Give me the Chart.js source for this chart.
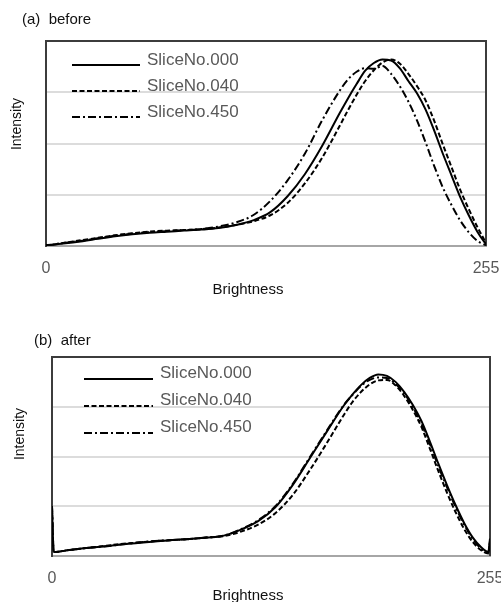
<!DOCTYPE html>
<html>
<head>
<meta charset="utf-8">
<script src="https://cdn.jsdelivr.net/npm/chart.js@4.4.1/dist/chart.umd.min.js"></script>
<style>
    html, body { margin: 0; padding: 0; overflow: hidden; background: #fff; }
    body { width: 501px; height: 602px; position: relative; font-family: "Liberation Sans", Arial, sans-serif; }
    canvas { position: absolute; left: 0; }
    #chartBefore { top: 0; }
    #chartAfter { top: 300px; }
    .lbl { position: absolute; color: #111; white-space: pre; line-height: 1; transform: translate(-50%, -50%); }
    .caption { position: absolute; color: #111; white-space: pre; font-size: 15px; line-height: 1; transform: translateY(-50%); }
    .ytitle { transform: translate(-50%, -50%) rotate(-90deg); }
</style>
</head>
<body>
<canvas id="chartBefore" width="520" height="300"></canvas>
<canvas id="chartAfter" width="520" height="302"></canvas>

<div class="caption" style="left:22px; top:18px;">(a)  before</div>
<div class="lbl ytitle" style="left:16px; top:124px; font-size:14px;">Intensity</div>
<div class="lbl" style="left:248px; top:288px; font-size:15px;">Brightness</div>

<div class="caption" style="left:34px; top:339px;">(b)  after</div>
<div class="lbl ytitle" style="left:19px; top:434px; font-size:14px;">Intensity</div>
<div class="lbl" style="left:248px; top:594px; font-size:15px;">Brightness</div>

<script>
// Data
const brightness = [0, 1, 10, 20, 30, 40, 50, 60, 70, 80, 90, 100, 110, 120, 130, 140, 150, 160, 170, 175,
    180, 185, 190, 195, 200, 205, 210, 215, 220, 225, 230, 235, 240, 245, 250, 254, 255];
const sliceNames = ["SliceNo.000", "SliceNo.040", "SliceNo.450"];
const xTickValues = [0, 255];

// (a) before
const before000 = [0.02, 0.02, 0.05, 0.09, 0.14, 0.19, 0.23, 0.26, 0.28, 0.30, 0.32, 0.35, 0.41, 0.50, 0.66, 0.97, 1.40, 1.95, 2.58, 2.88,
    3.16, 3.42, 3.57, 3.64, 3.62, 3.47, 3.22, 2.98, 2.66, 2.25, 1.80, 1.38, 0.96, 0.60, 0.28, 0.08, 0.04];
const before040 = [0.02, 0.02, 0.06, 0.11, 0.16, 0.21, 0.25, 0.28, 0.30, 0.31, 0.33, 0.36, 0.41, 0.48, 0.60, 0.84, 1.22, 1.72, 2.33, 2.65,
    2.95, 3.22, 3.43, 3.58, 3.64, 3.56, 3.36, 3.12, 2.84, 2.44, 1.98, 1.54, 1.10, 0.72, 0.37, 0.12, 0.05];
const before450 = [0.02, 0.02, 0.06, 0.10, 0.15, 0.20, 0.24, 0.27, 0.29, 0.31, 0.33, 0.38, 0.46, 0.60, 0.88, 1.28, 1.80, 2.45, 3.02, 3.25,
    3.40, 3.47, 3.46, 3.51, 3.36, 3.12, 2.82, 2.45, 2.02, 1.56, 1.14, 0.80, 0.50, 0.27, 0.10, 0.03, 0.02];

// (b) after
const after000 = [1.00, 0.08, 0.12, 0.16, 0.19, 0.23, 0.26, 0.29, 0.32, 0.34, 0.37, 0.41, 0.53, 0.70, 0.98, 1.42, 1.96, 2.50, 3.03, 3.25,
    3.44, 3.58, 3.65, 3.62, 3.50, 3.30, 3.04, 2.72, 2.30, 1.85, 1.42, 1.02, 0.66, 0.37, 0.17, 0.08, 0.35];
const after040 = [0.98, 0.08, 0.12, 0.16, 0.20, 0.24, 0.27, 0.30, 0.32, 0.34, 0.37, 0.40, 0.49, 0.63, 0.86, 1.22, 1.72, 2.27, 2.84, 3.10,
    3.30, 3.45, 3.53, 3.54, 3.43, 3.22, 2.94, 2.60, 2.16, 1.70, 1.27, 0.88, 0.54, 0.28, 0.11, 0.05, 0.30];
const after450 = [1.00, 0.08, 0.12, 0.16, 0.19, 0.23, 0.27, 0.30, 0.32, 0.34, 0.37, 0.41, 0.54, 0.72, 1.00, 1.44, 1.98, 2.52, 3.04, 3.24,
    3.42, 3.54, 3.59, 3.58, 3.46, 3.27, 3.00, 2.66, 2.25, 1.80, 1.38, 0.98, 0.63, 0.34, 0.14, 0.06, 0.32];

const lineDashes = [[], [5, 2.5], [8, 3, 2, 3]];

// Frame on top and right of the plot area
const framePlugin = {
    id: 'frame',
    beforeDatasetsDraw(chart) {
        const { ctx, chartArea: a } = chart;
        ctx.save();
        ctx.strokeStyle = '#3c3c3c';
        ctx.lineWidth = 2;
        ctx.beginPath();
        ctx.moveTo(a.left, a.top);
        ctx.lineTo(a.right, a.top);
        ctx.lineTo(a.right, a.bottom);
        ctx.stroke();
        ctx.restore();
    }
};

// Legend drawn inside the plot area
const sliceLegendPlugin = {
    id: 'sliceLegend',
    afterDatasetsDraw(chart, args, opts) {
        const { ctx } = chart;
        ctx.save();
        chart.data.datasets.forEach((ds, i) => {
            const rowY = opts.y + i * opts.rowH;
            ctx.strokeStyle = '#000';
            ctx.lineWidth = 2;
            ctx.setLineDash(ds.borderDash || []);
            ctx.beginPath();
            ctx.moveTo(opts.x, rowY + opts.lineDy);
            ctx.lineTo(opts.x + opts.lineW, rowY + opts.lineDy);
            ctx.stroke();
            ctx.setLineDash([]);
            ctx.fillStyle = '#595959';
            ctx.font = '17px "Liberation Sans", Arial, sans-serif';
            ctx.textBaseline = 'middle';
            ctx.fillText(ds.label, opts.x + opts.lineW + opts.gap, rowY);
        });
        ctx.restore();
    }
};

function buildDatasets(seriesList) {
    return seriesList.map((values, i) => ({
        label: sliceNames[i],
        data: brightness.map((b, j) => ({ x: b, y: values[j] })),
        borderColor: '#000',
        borderWidth: 2,
        borderDash: lineDashes[i],
        pointRadius: 0,
        fill: false,
        cubicInterpolationMode: 'monotone'
    }));
}

function renderChart(canvasId, seriesList, layout) {
    const ctx = document.getElementById(canvasId).getContext('2d');
    return new Chart(ctx, {
        type: 'line',
        data: { datasets: buildDatasets(seriesList) },
        options: {
            responsive: false,
            animation: false,
            layout: { padding: { top: layout.top, right: layout.right, left: 0, bottom: 0 } },
            scales: {
                x: {
                    type: 'linear',
                    min: 0,
                    max: 255,
                    afterBuildTicks: (scale) => { scale.ticks = xTickValues.map(v => ({ value: v })); },
                    afterFit: (scale) => { scale.height = layout.xHeight; },
                    grid: { display: false, drawTicks: false },
                    border: { display: true, color: '#a6a6a6', width: 2 },
                    ticks: {
                        color: '#595959',
                        padding: 13,
                        maxRotation: 0,
                        autoSkip: false,
                        font: { family: '"Liberation Sans", Arial, sans-serif', size: 16 }
                    }
                },
                y: {
                    min: 0,
                    max: 4,
                    afterFit: (scale) => { scale.width = layout.yWidth; },
                    grid: { color: '#dcdcdc', lineWidth: 2, drawTicks: false },
                    border: { display: true, color: '#3c3c3c', width: 2 },
                    ticks: { display: false, stepSize: 1 }
                }
            },
            plugins: {
                legend: { display: false },
                tooltip: { enabled: false },
                sliceLegend: layout.legend
            }
        },
        plugins: [framePlugin, sliceLegendPlugin]
    });
}

renderChart('chartBefore', [before000, before040, before450], {
    top: 41, right: 34, yWidth: 46, xHeight: 54,
    legend: { x: 72, y: 60, rowH: 26, lineW: 68, lineDy: 5, gap: 7 }
});

renderChart('chartAfter', [after000, after040, after450], {
    top: 57, right: 30, yWidth: 52, xHeight: 46,
    legend: { x: 84, y: 73, rowH: 27, lineW: 69, lineDy: 6, gap: 7 }
});
</script>
</body>
</html>
